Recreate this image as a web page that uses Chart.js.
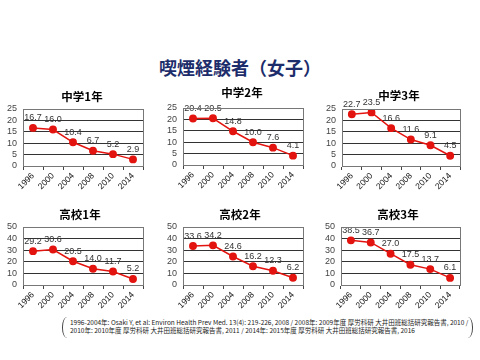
<!DOCTYPE html>
<html>
<head>
<meta charset="utf-8">
<script src="https://cdn.jsdelivr.net/npm/chart.js@4/dist/chart.umd.min.js"></script>
<style>
  body { margin: 0; width: 480px; height: 360px; background: #fff; position: relative; overflow: hidden;
         font-family: "Liberation Sans", "Noto Sans CJK JP", sans-serif; }
  canvas { position: absolute; }
  .ttl { position: absolute; font-weight: bold; color: #000; font-size: 11.5px; width: 100px; text-align: center;
         font-family: "Noto Sans CJK JP", sans-serif; line-height: 1; }
  #main { position: absolute; left: 0; width: 480px; top: 58px; text-align: center; font-size: 18px; font-weight: bold;
          color: #1d2d6b; font-family: "Noto Sans CJK JP", sans-serif; line-height: 1; }
  #note { position: absolute; left: 62px; top: 317px; width: 411px; height: 21px; border-left: 1px solid #444;
          border-right: 1px solid #444; border-radius: 5px / 10px; box-sizing: border-box; }
  #note div { position: absolute; left: 7px; font-size: 6.5px; white-space: nowrap; color: #222; line-height: 1;
              font-family: "Noto Sans CJK JP", sans-serif; }
</style>
</head>
<body>
<div id="main">喫煙経験者（女子）</div>
<div id="note">
  <div style="top:2px">1996-2004年: Osaki Y, et al: Environ Health Prev Med. 13(4): 219-226, 2008 / 2008年: 2009年度 厚労科研 大井田班総括研究報告書, 2010 /</div>
  <div style="top:10px">2010年: 2010年度 厚労科研 大井田班総括研究報告書, 2011 / 2014年: 2015年度 厚労科研 大井田班総括研究報告書, 2016</div>
</div>
<script>
// ===== データ =====
const years = ['1996', '2000', '2004', '2008', '2010', '2014'];
const jh1 = [16.7, 16.0, 10.4, 6.7, 5.2, 2.9];
const jh2 = [20.4, 20.5, 14.8, 10.0, 7.6, 4.1];
const jh3 = [22.7, 23.5, 16.6, 11.6, 9.1, 4.5];
const hs1 = [29.2, 30.6, 20.5, 14.0, 11.7, 5.2];
const hs2 = [33.6, 34.2, 24.6, 16.2, 12.3, 6.2];
const hs3 = [38.5, 36.7, 27.0, 17.5, 13.7, 6.1];
const titles = ['中学1年', '中学2年', '中学3年', '高校1年', '高校2年', '高校3年'];
const yMaxes = [25, 25, 25, 50, 50, 50];
const ySteps = [5, 5, 5, 10, 10, 10];

// plot area positions [left, right, top, bottom] and title centers
const boxes = [
  [23, 143, 109, 166], [183, 303, 108, 165], [342, 460, 109, 166],
  [23, 143, 227, 285], [183, 303, 227, 285], [341, 460, 227, 285]
];
const titlePos = [[82, 97], [242, 93], [399, 96], [80, 215], [240, 215], [398, 215]];
const series = [jh1, jh2, jh3, hs1, hs2, hs3];

const FONT = '"Liberation Sans", "Noto Sans CJK JP", sans-serif';
const YW = 23, PT = 16, PR = 6, XH = 30;

// 値ラベル
const valueLabels = {
  id: 'valueLabels',
  afterDatasetsDraw(chart) {
    const ctx = chart.ctx;
    ctx.save();
    ctx.font = '9px ' + FONT;
    ctx.fillStyle = '#333';
    ctx.textAlign = 'center';
    ctx.textBaseline = 'middle';
    const meta = chart.getDatasetMeta(0);
    meta.data.forEach((pt, i) => {
      const v = chart.data.datasets[0].data[i];
      ctx.fillText(v.toFixed(1), pt.x, pt.y - 10);
    });
    ctx.restore();
  }
};

series.forEach((data, k) => {
  const [L, R, T, B] = boxes[k];
  const cv = document.createElement('canvas');
  const w = (R - L) + YW + PR, h = PT + (B - T) + XH;
  cv.width = w; cv.height = h;
  cv.style.left = (L - YW) + 'px';
  cv.style.top = (T - PT) + 'px';
  document.body.appendChild(cv);

  const t = document.createElement('div');
  t.className = 'ttl';
  t.textContent = titles[k];
  t.style.left = (titlePos[k][0] - 50) + 'px';
  t.style.top = (titlePos[k][1] - 6) + 'px';
  document.body.appendChild(t);

  new Chart(cv.getContext('2d'), {
    type: 'line',
    data: {
      labels: years,
      datasets: [{
        data: data,
        borderColor: '#e3140f',
        backgroundColor: '#e3140f',
        borderWidth: 1.5,
        pointRadius: 3.2,
        pointHoverRadius: 3.2,
        tension: 0
      }]
    },
    options: {
      responsive: false,
      animation: false,
      devicePixelRatio: 1,
      layout: { padding: { top: PT, right: PR, left: 0, bottom: 0 } },
      plugins: { legend: { display: false }, tooltip: { enabled: false } },
      scales: {
        x: {
          offset: true,
          afterFit(s) { s.height = XH; },
          grid: { offset: true, drawOnChartArea: false, tickLength: 4, color: '#444' },
          border: { color: '#777' },
          ticks: { font: { size: 8.5, family: FONT }, color: '#111', minRotation: 45, maxRotation: 45, autoSkip: false, padding: 1 }
        },
        y: {
          min: 0, max: yMaxes[k],
          afterFit(s) { s.width = YW; },
          grid: { color: '#333', drawTicks: false },
          border: { color: '#777' },
          ticks: { stepSize: ySteps[k], autoSkip: false, font: { size: 9, family: FONT }, color: '#444', padding: 6 }
        }
      }
    },
    plugins: [valueLabels, {
      id: 'frame',
      afterDraw(chart) {
        const a = chart.chartArea, c = chart.ctx;
        c.save();
        c.strokeStyle = '#777';
        c.lineWidth = 1;
        c.strokeRect(Math.round(a.left) + 0.5, Math.round(a.top) + 0.5, Math.round(a.right - a.left), Math.round(a.bottom - a.top));
        c.restore();
      }
    }]
  });
});
</script>
</body>
</html>
